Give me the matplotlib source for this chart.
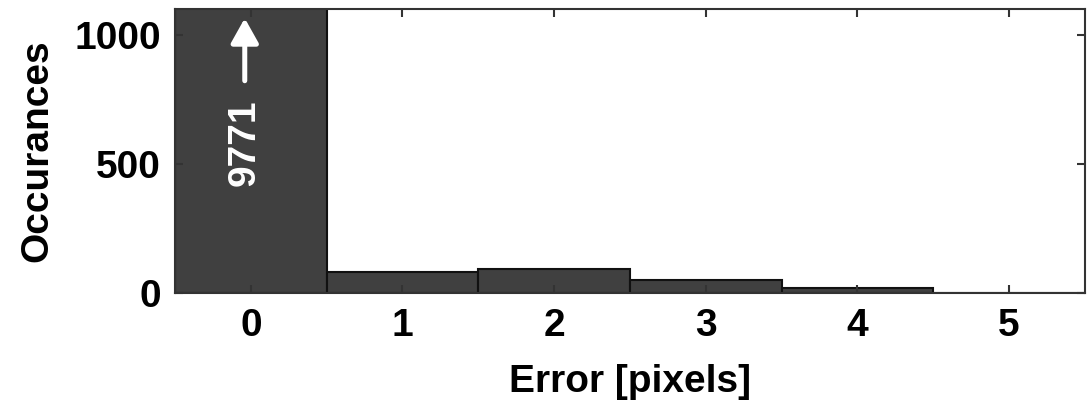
import matplotlib.pyplot as plt

# histogram of pixel errors
errors = [0, 1, 2, 3, 4, 5]
counts = [9771, 80, 93, 50, 19, 0]
x_ticks = [0, 1, 2, 3, 4, 5]
y_ticks = [0, 500, 1000]

plt.rcParams['font.family'] = ['Liberation Sans', 'DejaVu Sans']
plt.rcParams['font.weight'] = 'bold'
FS = 28

fig = plt.figure(figsize=(10.87, 4.07), dpi=100)
ax = fig.add_axes([0.161, 0.280, 0.837, 0.698])

ax.bar(errors, counts, width=1.0, color='#404040', edgecolor='#111111', linewidth=1.5)

ax.set_xlim(-0.5, 5.5)
ax.set_ylim(0, 1100)
ax.set_xticks(x_ticks)
ax.set_yticks(y_ticks)

# the first bar is clipped, so label its real height
ax.text(-0.04, 582, str(counts[0]), rotation=90, color='white', fontsize=FS,
        fontweight='bold', ha='center', va='center')
ax.annotate('', xy=(-0.04, 1064), xytext=(-0.04, 822),
            arrowprops=dict(arrowstyle='-|>,head_width=0.42,head_length=0.75',
                            mutation_scale=20, color='white', lw=3.6,
                            shrinkA=0, shrinkB=0))

ax.set_xlabel('Error [pixels]', fontsize=FS, fontweight='bold', labelpad=14)
ax.set_ylabel('Occurances', fontsize=FS, fontweight='bold', labelpad=14)

ax.tick_params(direction='in', top=True, right=True, length=6, width=1.5,
               labelsize=FS, color='#333333')
ax.tick_params(axis='x', pad=11)
ax.tick_params(axis='y', pad=10)
for lbl in ax.get_xticklabels() + ax.get_yticklabels():
    lbl.set_fontweight('bold')
for s in ax.spines.values():
    s.set_linewidth(1.5)
    s.set_color('#333333')

fig.savefig('out.png', dpi=100)
